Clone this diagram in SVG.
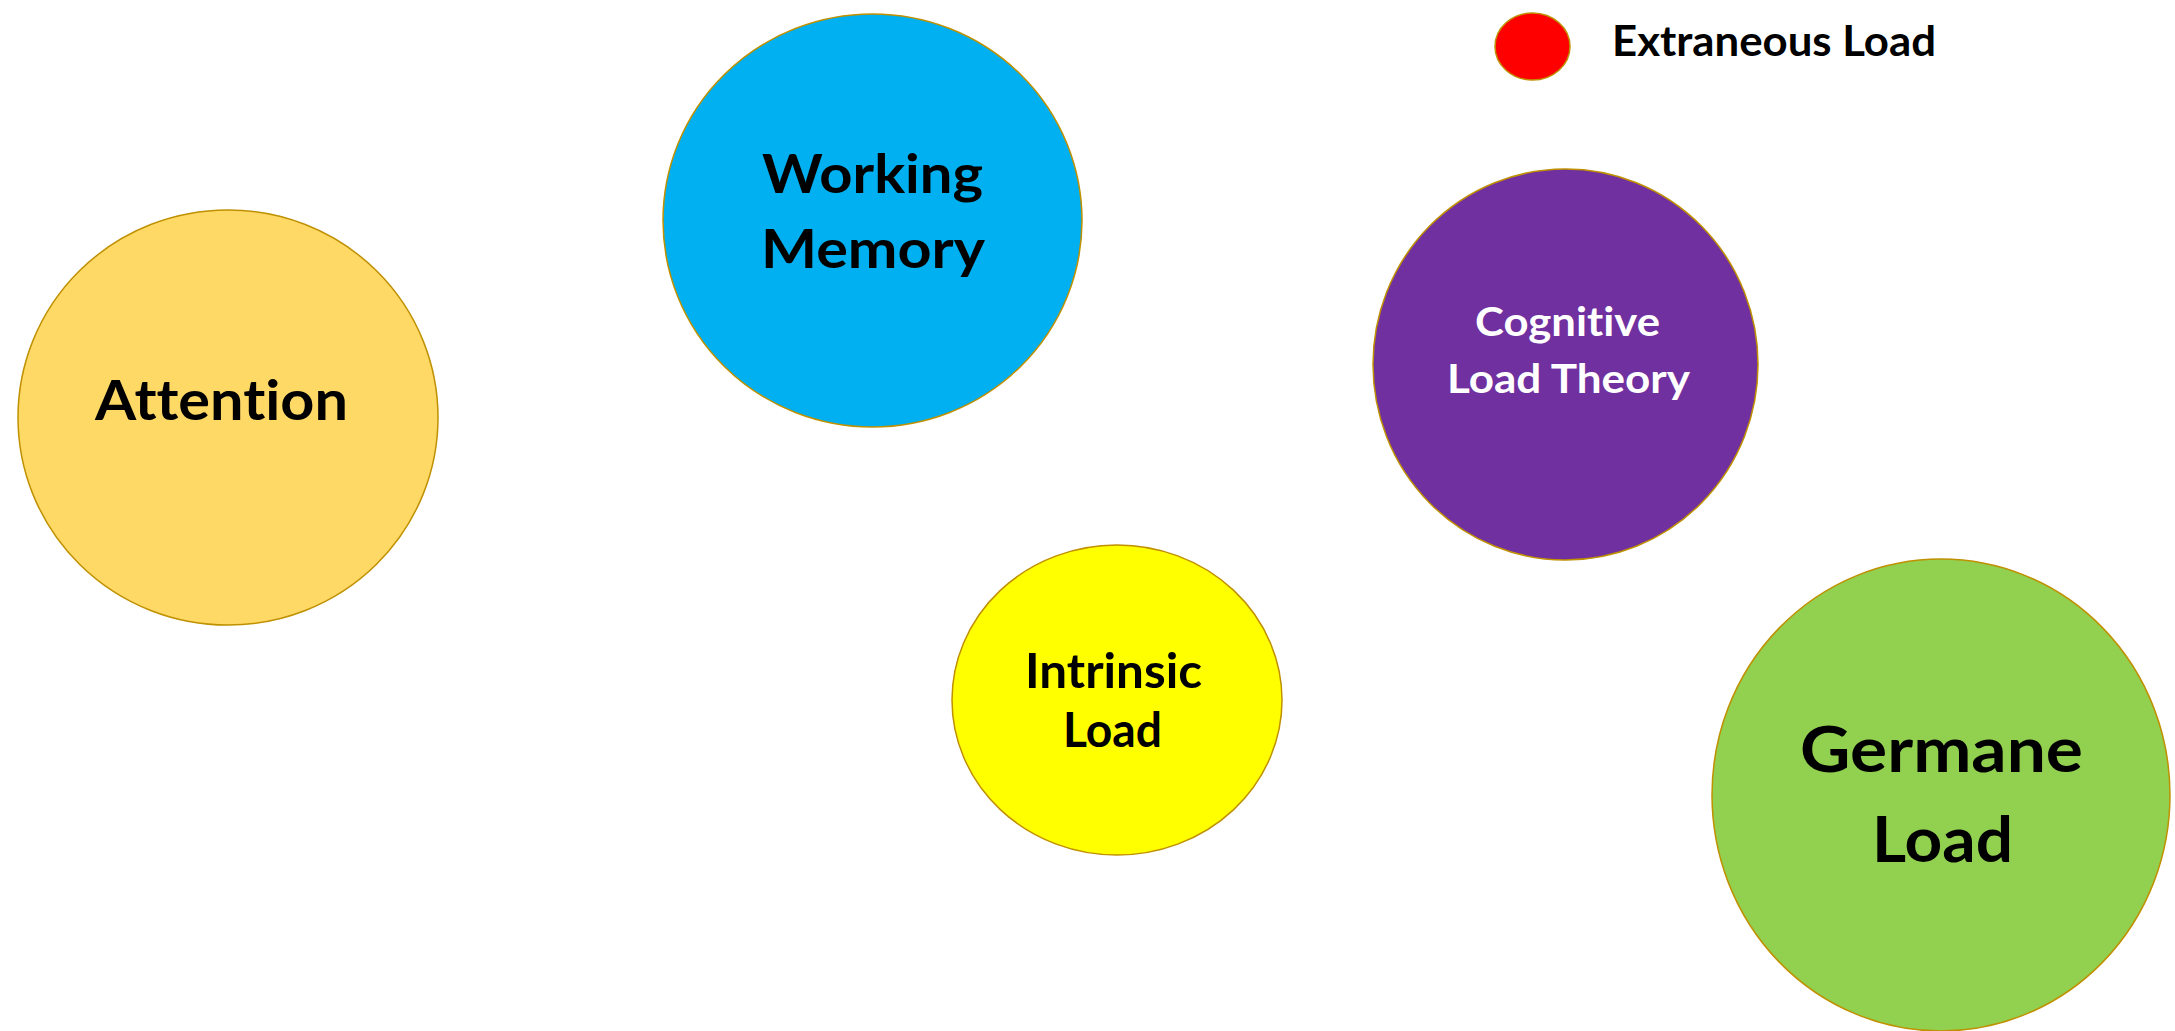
<svg xmlns="http://www.w3.org/2000/svg" width="2175" height="1031" viewBox="0 0 2175 1031">
<style>
.c{stroke:#BF9000;stroke-width:1.5}
.t{font-family:Lato,"Open Sans","Liberation Sans",sans-serif;font-weight:bold;text-anchor:middle;fill:#000;font-variant-ligatures:none;font-feature-settings:"liga" 0,"dlig" 0}
.w{fill:#fff}
</style>
<rect width="2175" height="1031" fill="#fff"/>
<g id="connectors"></g>
<g id="attention">
<ellipse class="c" cx="228" cy="417.5" rx="210" ry="207.5" fill="#FFD966"/>
<text class="t" x="221.5" y="420" font-size="56" textLength="253" lengthAdjust="spacingAndGlyphs">Attention</text>
</g>
<g id="working-memory">
<ellipse class="c" cx="872.5" cy="220.5" rx="209.5" ry="206.5" fill="#00B0F0"/>
<text class="t" x="872.5" y="193" font-size="54" textLength="221" lengthAdjust="spacingAndGlyphs">Working</text>
<text class="t" x="873" y="268" font-size="54" textLength="224" lengthAdjust="spacingAndGlyphs">Memory</text>
</g>
<g id="cognitive-load-theory">
<ellipse class="c" cx="1565.5" cy="364.5" rx="192.5" ry="195.5" fill="#7030A0"/>
<text class="t w" x="1567.5" y="336" font-size="40" textLength="185" lengthAdjust="spacingAndGlyphs">Cognitive</text>
<text class="t w" x="1568.5" y="393" font-size="40" textLength="243" lengthAdjust="spacingAndGlyphs">Load Theory</text>
</g>
<g id="intrinsic-load">
<ellipse class="c" cx="1117" cy="700" rx="165" ry="155" fill="#FFFF00"/>
<text class="t" x="1113.5" y="688" font-size="47" textLength="177" lengthAdjust="spacingAndGlyphs">Intrinsic</text>
<text class="t" x="1112.5" y="747" font-size="47" textLength="99" lengthAdjust="spacingAndGlyphs">Load</text>
</g>
<g id="germane-load">
<ellipse class="c" cx="1941" cy="795" rx="229" ry="236" fill="#92D050"/>
<text class="t" x="1941.5" y="772" font-size="63" textLength="283" lengthAdjust="spacingAndGlyphs">Germane</text>
<text class="t" x="1942.5" y="862" font-size="63" textLength="141" lengthAdjust="spacingAndGlyphs">Load</text>
</g>
<g id="extraneous-load">
<ellipse class="c" cx="1532.5" cy="46.5" rx="37.5" ry="33.5" fill="#FF0000"/>
<text class="t" x="1774" y="56" font-size="42" textLength="324" lengthAdjust="spacingAndGlyphs">Extraneous Load</text>
</g>
</svg>
